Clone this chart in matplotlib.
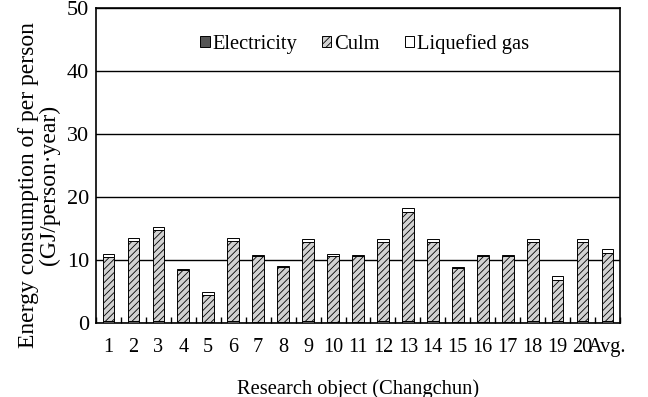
import matplotlib
matplotlib.use("Agg")
import matplotlib.pyplot as plt
import numpy as np

plt.rcParams["font.family"] = ["Liberation Serif", "DejaVu Serif"]
plt.rcParams["hatch.color"] = "#9a9a9a"
plt.rcParams["hatch.linewidth"] = 0.6

# research objects in Changchun, plus the average
objects = [str(i) for i in range(1, 21)] + ["Avg."]

# GJ per person per year
electricity = [0.3, 0.3, 0.3, 0.2, 0.2, 0.3, 0.2, 0.2, 0.3, 0.2, 0.2,
               0.3, 0.3, 0.3, 0.2, 0.2, 0.2, 0.3, 0.3, 0.3, 0.3]
culm = [10.2, 12.7, 14.5, 8.2, 4.3, 12.7, 10.4, 8.7, 12.6, 10.5, 10.4,
        12.6, 17.3, 12.6, 8.5, 10.4, 10.4, 12.6, 6.6, 12.6, 10.8]
liquefied_gas = [0.5, 0.5, 0.5, 0.2, 0.5, 0.5, 0.2, 0.2, 0.5, 0.2, 0.2,
                 0.5, 0.6, 0.5, 0.2, 0.2, 0.2, 0.5, 0.6, 0.5, 0.6]

fig = plt.figure(figsize=(6.48, 3.97), dpi=100)
ax = fig.add_axes([96 / 648, (397 - 323) / 397, 524 / 648, 315 / 397])

x = np.arange(len(objects))
w = 0.47
elec = np.array(electricity)
cu = np.array(culm)
gas = np.array(liquefied_gas)

ax.bar(x, elec, w, color="#555555", edgecolor="black", linewidth=0.7,
       label="Electricity", zorder=3)
ax.bar(x, cu, w, bottom=elec, color="#d2d2d2", edgecolor="black",
       linewidth=0.7, hatch="/////", label="Culm", zorder=3)
ax.bar(x, gas, w, bottom=elec + cu, color="white", edgecolor="black",
       linewidth=0.7, label="Liquefied gas", zorder=3)

ax.set_xlim(-0.5, len(objects) - 0.5)
ax.set_ylim(0, 50)
ax.set_yticks([0, 10, 20, 30, 40, 50])
ax.yaxis.grid(True, color="black", linewidth=1.0, zorder=0)
ax.set_axisbelow(True)
ax.tick_params(axis="y", length=0, labelsize=16, pad=5)

# category labels sit between the boundary ticks
ax.set_xticks(x)
ax.set_xticklabels(objects)
ax.set_xticks(np.arange(len(objects) + 1) - 0.5, minor=True)
ax.tick_params(axis="x", which="major", length=0, labelsize=14.6, pad=11)
ax.tick_params(axis="x", which="minor", direction="in", length=4,
               width=1.0, color="black")

for s in ax.spines.values():
    s.set_linewidth(1.2)
    s.set_color("black")

ax.set_ylabel("Energy consumption of per person\n(GJ/person\u00b7year)",
              fontsize=17, linespacing=1.0)
ax.yaxis.set_label_coords(-0.068, 0.438)
ax.set_xlabel("Research object (Changchun)", fontsize=14.8, labelpad=16)

ax.legend(loc="upper center", bbox_to_anchor=(0.513, 0.975), ncol=3,
          frameon=False, fontsize=14.8, handlelength=0.45, handleheight=0.45,
          handletextpad=0.15, columnspacing=1.2)

fig.savefig("out.png", dpi=100)
